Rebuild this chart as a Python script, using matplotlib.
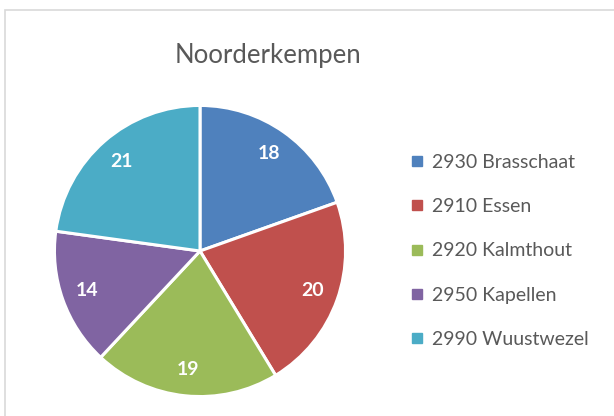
import matplotlib.pyplot as plt
from matplotlib.lines import Line2D
from matplotlib.patches import Rectangle

title = "Noorderkempen"
labels = ["2930 Brasschaat", "2910 Essen", "2920 Kalmthout", "2950 Kapellen", "2990 Wuustwezel"]
values = [18, 20, 19, 14, 21]
colors = ["#4F81BD", "#C0504D", "#9BBB59", "#8064A2", "#4BACC6"]

plt.rcParams['font.family'] = ['Lato', 'DejaVu Sans']

fig = plt.figure(figsize=(6.14, 4.16), dpi=100)

# chart frame
fig.patches.append(Rectangle((5 / 614, -0.05), 1.1, (416 - 10) / 416 + 0.05,
                             transform=fig.transFigure, fill=False,
                             edgecolor="#D9D9D9", linewidth=1.2))

ax = fig.add_axes([53 / 614, 18 / 416, 294 / 614, 294 / 416])
wedges, texts, autotexts = ax.pie(
    values, colors=colors, startangle=90, counterclock=False,
    autopct=lambda p: "%d" % round(p * sum(values) / 100),
    pctdistance=0.82, radius=1,
    wedgeprops=dict(edgecolor="white", linewidth=2.2),
    textprops=dict(color="white", fontsize=14, fontweight="bold"))
ax.set_xlim(-1.01, 1.01)
ax.set_ylim(-1.01, 1.01)
ax.set_aspect("equal")

fig.text(268 / 614, 1 - 55 / 416, title, ha="center", va="center",
         fontsize=18.5, color="#595959")

handles = [Line2D([], [], linestyle="none", marker="s", markersize=6.5,
                  markerfacecolor=c, markeredgecolor=c) for c in colors]
leg = fig.legend(handles, labels, loc="center left",
                 bbox_to_anchor=(402 / 614, 1 - 251 / 416),
                 frameon=False, fontsize=14, labelcolor="#595959",
                 handlelength=0.7, handletextpad=0.45, labelspacing=1.4,
                 borderaxespad=0)

fig.savefig("out.png", dpi=100)
